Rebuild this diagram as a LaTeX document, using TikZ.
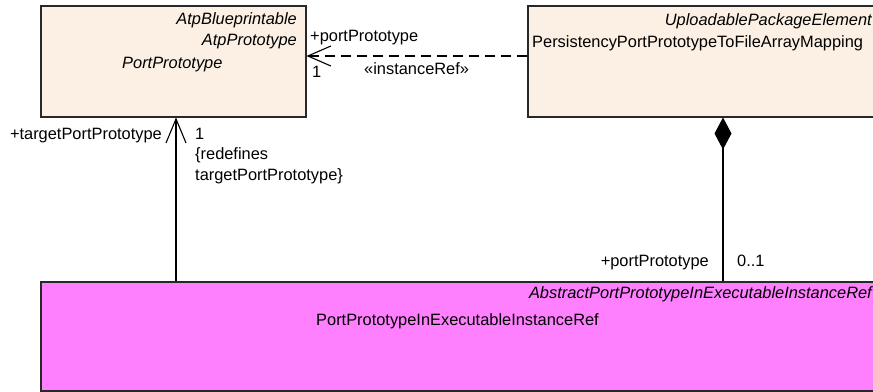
\documentclass[tikz,border=0pt]{standalone}
\usepackage{fontspec}
\setmainfont{Liberation Sans}
\usetikzlibrary{arrows.meta}
\definecolor{beige}{RGB}{251,240,227}
\definecolor{pinkm}{RGB}{255,128,255}
\definecolor{edge}{RGB}{40,40,40}
\begin{document}
\begin{tikzpicture}[x=1pt,y=-1pt,
  txt/.style={font=\fontsize{16.4}{19}\selectfont, inner sep=0pt},
  itxt/.style={font=\fontsize{16.4}{19}\selectfont\itshape, inner sep=0pt},
  classbox/.style={draw=edge, line width=1.5pt, anchor=north west, inner sep=0pt},
  lbl/.style={txt, anchor=base west},
  lblr/.style={txt, anchor=base east},
  conn/.style={line width=1.1pt, draw=black}]
\useasboundingbox (0,0) rectangle (873,391);
\clip (0,0) rectangle (873,391);
% boxes
\node[classbox, fill=beige, minimum width=265pt, minimum height=111pt] (pp) at (40,5) {};
\node[classbox, fill=beige, minimum width=360pt, minimum height=111pt] (map) at (527,5) {};
\node[classbox, fill=pinkm, minimum width=845pt, minimum height=109pt] (ref) at (40,281) {};
% box texts
\node[itxt, anchor=base east] (t1) at (297,24) {AtpBlueprintable};
\node[itxt, anchor=base east] (t2) at (297,45) {AtpPrototype};
\node[itxt, anchor=base west] (t3) at (122,68) {PortPrototype};
\node[itxt, anchor=base east] (t4) at (872,25) {UploadablePackageElement};
\node[txt, anchor=base west] (t5) at (532,47) {PersistencyPortPrototypeToFileArrayMapping};
\node[itxt, anchor=base east] (t6) at (872,298) {AbstractPortPrototypeInExecutableInstanceRef};
\node[txt, anchor=base west] (t7) at (316,325) {PortPrototypeInExecutableInstanceRef};
% helper coordinates
\coordinate (y56) at (0,56);
\coordinate (x176) at (176,0);
\coordinate (x723) at (723,0);
% connectors
\draw[conn, dash pattern=on 10pt off 6pt, -{Straight Barb[length=23pt,width=20pt]}] (map.west |- y56) -- (pp.east |- y56);
\draw[conn, -{Straight Barb[length=24pt,width=20pt]}] (ref.north -| x176) -- (pp.south -| x176);
\draw[conn, {Diamond[length=32pt,width=17pt]}-] (map.south -| x723) -- (ref.north -| x723);
% labels
\node[lbl] (l1) at (310,41) {+portPrototype};
\node[lbl] (l2) at (312,77) {1};
\node[lbl] (l3) at (364,74) {«instanceRef»};
\node[lblr] (l4) at (162,139) {+targetPortPrototype};
\node[lbl] (l5) at (195,139) {1};
\node[lbl] (l6) at (195,159) {\{redefines};
\node[lbl] (l7) at (195,180) {targetPortPrototype\}};
\node[lblr] (l8) at (709,266) {+portPrototype};
\node[lbl] (l9) at (737,266) {0..1};
\end{tikzpicture}
\end{document}
